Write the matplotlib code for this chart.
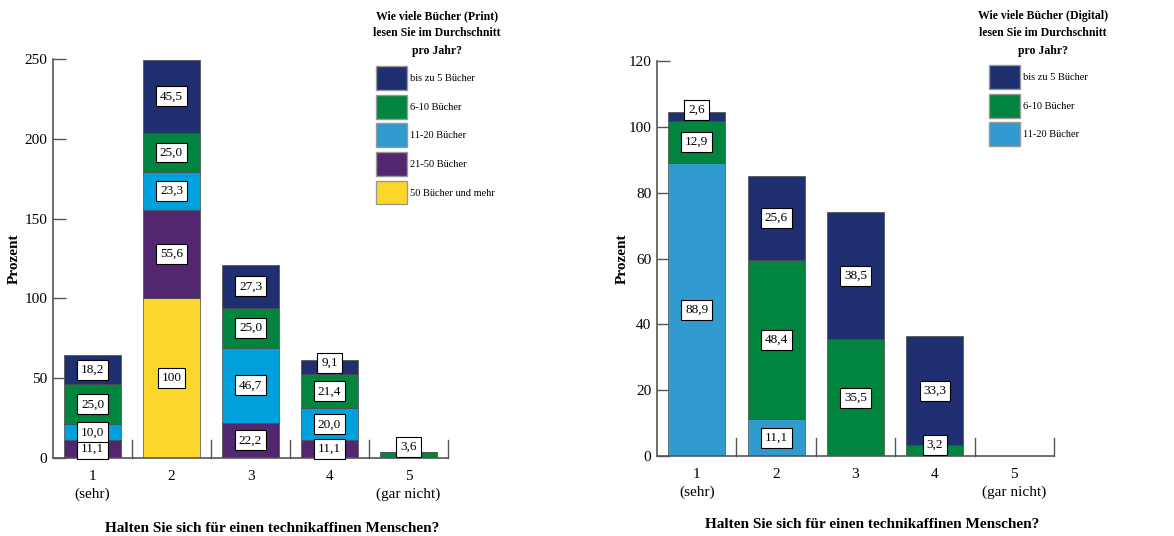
import matplotlib.pyplot as plt
from matplotlib.patches import Patch
import numpy as np

plt.rcParams['font.family'] = ['Liberation Serif', 'DejaVu Serif']

# Antworten auf "Halten Sie sich für einen technikaffinen Menschen?" (1 = sehr ... 5 = gar nicht)
categories = ['1\n(sehr)', '2', '3', '4', '5\n(gar nicht)']

# Print-Bücher, Anteile in Prozent je Leseklasse
print_labels = ['bis zu 5 Bücher', '6-10 Bücher', '11-20 Bücher', '21-50 Bücher', '50 Bücher und mehr']
print_bis5 = [18.2, 45.5, 27.3, 9.1, 0]
print_6_10 = [25.0, 25.0, 25.0, 21.4, 3.6]
print_11_20 = [10.0, 23.3, 46.7, 20.0, 0]
print_21_50 = [11.1, 55.6, 22.2, 11.1, 0]
print_50plus = [0, 100, 0, 0, 0]

# Digitale Bücher
digital_labels = ['bis zu 5 Bücher', '6-10 Bücher', '11-20 Bücher']
digital_bis5 = [2.6, 25.6, 38.5, 33.3, 0]
digital_6_10 = [12.9, 48.4, 35.5, 3.2, 0]
digital_11_20 = [88.9, 11.1, 0, 0, 0]

navy = '#1f2f70'
green = '#00843e'
cyan = '#00a0dc'
lightblue = '#319bd0'
purple = '#53276f'
yellow = '#fbd62b'


def fmt(v):
    return f'{v:.0f}' if v == 100 else f'{v:.1f}'.replace('.', ',')


def stacked(ax, series, colors, ymax, yticks):
    x = np.arange(1, len(categories) + 1)
    bottom = np.zeros(len(categories))
    box = dict(boxstyle='square,pad=0.3', fc='white', ec='black', lw=0.8)
    for vals, col in zip(series, colors):
        vals = np.array(vals, dtype=float)
        ax.bar(x, vals, width=0.72, bottom=bottom, color=col,
               edgecolor='#4a4a4a', linewidth=0.5, zorder=2)
        for xi, v, b in zip(x, vals, bottom):
            if v <= 0:
                continue
            # kleine Segmente: Label etwas oberhalb der Segmentmitte
            if v < 10:
                ax.annotate(fmt(v), (xi, b), xytext=(0, 8), textcoords='offset points',
                            ha='center', va='center', fontsize=9.5, zorder=4, bbox=box)
            else:
                ax.text(xi, b + v / 2, fmt(v), ha='center', va='center', fontsize=9.5,
                        zorder=4, bbox=box)
        bottom += vals

    ax.set_xlim(0.5, len(categories) + 0.5)
    ax.set_ylim(0, ymax)
    ax.set_yticks(yticks)
    ax.set_xticks(x)
    ax.set_xticklabels(categories, fontsize=11, linespacing=1.4)
    ax.tick_params(axis='x', length=0, pad=9)
    ax.tick_params(axis='y', direction='in', length=9, width=1, color='#555555',
                   labelsize=11, pad=4)
    # Trennstriche zwischen den Kategorien
    for b in np.arange(1.5, len(categories) + 1, 1):
        ax.plot([b, b], [0, ymax * 0.045], color='#555555', lw=1, zorder=3, clip_on=False)
    for s in ['top', 'right']:
        ax.spines[s].set_visible(False)
    for s in ['left', 'bottom']:
        ax.spines[s].set_color('#555555')
        ax.spines[s].set_linewidth(1.2)
    ax.set_xlabel('Halten Sie sich für einen technikaffinen Menschen?',
                  fontsize=11, fontweight='bold')


fig = plt.figure(figsize=(11.74, 5.36), dpi=100)

ax1 = fig.add_axes([53 / 1174, 78 / 536, 395 / 1174, 399 / 536])
stacked(ax1, [print_50plus, print_21_50, print_11_20, print_6_10, print_bis5],
        [yellow, purple, cyan, green, navy], 250, [0, 50, 100, 150, 200, 250])
ax1.set_ylabel('Prozent', fontsize=11, fontweight='bold', labelpad=3)
ax1.xaxis.set_label_coords(0.555, -0.16)

ax2 = fig.add_axes([657 / 1174, 80 / 536, 397 / 1174, 395 / 536])
stacked(ax2, [digital_11_20, digital_6_10, digital_bis5],
        [lightblue, green, navy], 120, [0, 20, 40, 60, 80, 100, 120])
ax2.set_ylabel('Prozent', fontsize=11, fontweight='bold', labelpad=0)
ax2.xaxis.set_label_coords(0.542, -0.158)

# Legenden mit eigenem Titel
legend_kw = dict(loc='upper left', frameon=False, fontsize=7.5, handlelength=3.0,
                 handleheight=3.16, labelspacing=0.45, handletextpad=0.3,
                 borderpad=0, borderaxespad=0)

fig.text(437 / 1174, 1 - 10 / 536, 'Wie viele Bücher (Print)\nlesen Sie im Durchschnitt\npro Jahr?',
         ha='center', va='top', fontsize=8.5, fontweight='bold', linespacing=1.6)
fig.legend(handles=[Patch(fc=c, ec='#999999', lw=1) for c in [navy, green, lightblue, purple, yellow]],
           labels=print_labels, bbox_to_anchor=(376 / 1174, 1 - 66 / 536), **legend_kw)

fig.text(1043 / 1174, 1 - 10 / 536, 'Wie viele Bücher (Digital)\nlesen Sie im Durchschnitt\npro Jahr?',
         ha='center', va='top', fontsize=8.5, fontweight='bold', linespacing=1.6)
fig.legend(handles=[Patch(fc=c, ec='#999999', lw=1) for c in [navy, green, lightblue]],
           labels=digital_labels, bbox_to_anchor=(989 / 1174, 1 - 65 / 536), **legend_kw)

plt.savefig('out.png', dpi=100)
